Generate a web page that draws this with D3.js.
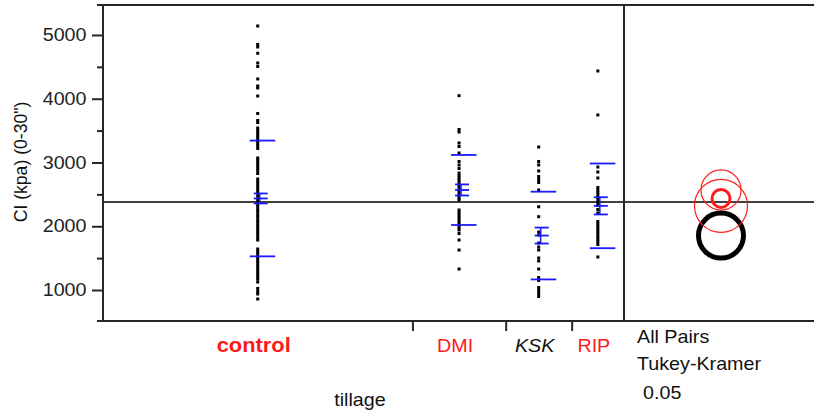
<!DOCTYPE html>
<html>
<head>
<meta charset="utf-8">
<script src="https://cdn.jsdelivr.net/npm/d3@7"></script>
<style>
  html, body { margin: 0; padding: 0; background: #fff; }
  svg { display: block; font-family: "Liberation Sans", Arial, sans-serif; }
</style>
</head>
<body>
<svg id="chart" width="814" height="414"></svg>
<script>
// ---- data -------------------------------------------------------------
const categories = ["control", "DMI", "KSK", "RIP"];
// observations per tillage treatment (x axis is proportional to n)
const groupN = [136, 41, 29, 23];

// cone index readings, kPa (distinct values; repeats overlap)
const ciControl = [5141, 4851, 4812, 4713, 4561, 4506, 4310, 4200, 4169, 4043,
  3769, 3659, 3627,
  3541, 3502, 3463, 3424, 3384, 3345, 3306, 3267, 3220,
  3071, 3031, 2992, 2953, 2914, 2875, 2827,
  2741, 2701, 2661, 2621, 2581, 2541, 2501, 2461, 2421, 2381, 2341, 2301, 2261,
  2221, 2181, 2141, 2101, 2061, 2021, 1981, 1941, 1901, 1861, 1821, 1784,
  1643, 1604, 1565, 1525, 1486, 1447, 1408, 1368, 1329, 1290, 1251, 1212, 1170, 1125,
  1024, 976, 937, 859];
const ciDMI = [4048, 3518, 3478, 3306, 3251, 3149, 3016, 2961, 2906,
  2835, 2796, 2757, 2718, 2678, 2639, 2600, 2561, 2522, 2482, 2443, 2412,
  2255, 2216, 2176, 2137, 2098, 2059, 2020, 1980, 1941, 1886,
  1784, 1627, 1329];
const ciKSK = [3243, 3016, 2961, 2867, 2780, 2733, 2686, 2569, 2306, 2150, 1910, 1862,
  1737, 1674, 1627, 1502, 1455, 1329, 1196, 1149, 1039, 992, 945, 898];
const ciRIP = [4435, 3745, 2929, 2851, 2757,
  2608, 2569, 2529, 2490, 2451, 2412, 2365, 2325, 2263, 2208,
  2075, 2035, 1996, 1957, 1918, 1878, 1839, 1800, 1761, 1714, 1518];
const groupValues = [ciControl, ciDMI, ciKSK, ciRIP];

// summary statistics per group
const groupMean = [2436, 2569, 1854, 2320];
const groupSD = [908, 549, 688, 664];
const groupSE = [78, 87, 125, 135];
const grandMean = 2380;

// Tukey-Kramer comparison circle radii (kPa)
const circleRadius = [141, 314, 353, 416];

const yTicks = [1000, 2000, 3000, 4000, 5000];
const yMinorTicks = [1500, 2500, 3500, 4500];

// ---- layout -----------------------------------------------------------
const W = 814;
const frame = { left: 103, right: 624, top: 5, bottom: 321 };
const circleX = 721;
const textFont = 17.6;
const stretch = 1.12;
const ink = "#262626";
const blue = "#1a1aff";
const red = "#ff1a1a";

const svg = d3.select("#chart");

const y = d3.scaleLinear().domain([514, 5470]).range([frame.bottom, frame.top]);
const total = d3.sum(groupN);
const x = d3.scaleLinear().domain([0, total]).range([frame.left, frame.right]);
const cum = Array.from(d3.cumsum(groupN));
const centers = groupN.map((n, i) => x(cum[i] - n / 2));

function label(px, py, txt, opts = {}) {
  const t = svg.append("text")
    .attr("transform", `translate(${px},${py}) scale(${opts.sx ?? stretch},1)` + (opts.rotate ? ` rotate(${opts.rotate})` : ""))
    .attr("text-anchor", opts.anchor || "start")
    .attr("font-size", opts.size || textFont)
    .attr("fill", opts.fill || "#111")
    .text(txt);
  if (opts.weight) t.attr("font-weight", opts.weight);
  if (opts.italic) t.attr("font-style", "italic");
  return t;
}

// grand mean reference line
svg.append("line")
  .attr("x1", frame.left).attr("x2", W)
  .attr("y1", y(grandMean)).attr("y2", y(grandMean))
  .attr("stroke", "#000").attr("stroke-width", 1.5);

// frame
const frameG = svg.append("g").attr("stroke", ink).attr("stroke-width", 2);
frameG.append("line").attr("x1", frame.left - 6).attr("x2", W).attr("y1", frame.top).attr("y2", frame.top);
frameG.append("line").attr("x1", frame.left - 6).attr("x2", W).attr("y1", frame.bottom).attr("y2", frame.bottom);
frameG.append("line").attr("x1", frame.left).attr("x2", frame.left).attr("y1", frame.top).attr("y2", frame.bottom);
frameG.append("line").attr("x1", frame.right).attr("x2", frame.right).attr("y1", frame.top).attr("y2", frame.bottom);

// y axis: major and minor ticks
const yAxis = svg.append("g")
  .attr("transform", `translate(${frame.left},0)`)
  .call(d3.axisLeft(y).tickValues(yTicks).tickSize(11).tickFormat(d3.format("d")));
yAxis.select(".domain").remove();
yAxis.selectAll(".tick line").attr("stroke", ink).attr("stroke-width", 2);
yAxis.selectAll(".tick text")
  .attr("x", -16.5 / stretch)
  .attr("transform", `scale(${stretch},1)`)
  .attr("font-size", textFont)
  .attr("font-family", "'Liberation Sans', Arial, sans-serif")
  .attr("fill", "#222");

const yMinor = svg.append("g")
  .attr("transform", `translate(${frame.left},0)`)
  .call(d3.axisLeft(y).tickValues(yMinorTicks).tickSize(6).tickFormat(""));
yMinor.select(".domain").remove();
yMinor.selectAll(".tick line").attr("stroke", ink).attr("stroke-width", 2);

// x axis: group boundary ticks
const xAxis = svg.append("g")
  .attr("transform", `translate(0,${frame.bottom})`)
  .call(d3.axisBottom(x).tickValues(cum.slice(0, -1)).tickSize(10).tickFormat(""));
xAxis.select(".domain").remove();
xAxis.selectAll(".tick line").attr("stroke", ink).attr("stroke-width", 2);

// observations
groupValues.forEach((vals, i) => {
  svg.append("g").selectAll("rect")
    .data(vals)
    .join("rect")
    .attr("x", centers[i] - 1.5)
    .attr("y", d => y(d) - 1.5)
    .attr("width", 3)
    .attr("height", 3)
    .attr("fill", "#000");
});

// std dev lines and mean error bars
const blueG = svg.append("g").attr("stroke", blue).attr("stroke-width", 1.8).attr("fill", "none");
categories.forEach((c, i) => {
  const cx = centers[i];
  [groupMean[i] - groupSD[i], groupMean[i] + groupSD[i]].forEach(v => {
    blueG.append("line").attr("x1", cx - 8).attr("x2", cx + 17.5).attr("y1", y(v)).attr("y2", y(v));
  });
  [groupMean[i] - groupSE[i], groupMean[i], groupMean[i] + groupSE[i]].forEach(v => {
    blueG.append("line").attr("x1", cx - 4).attr("x2", cx + 10).attr("y1", y(v)).attr("y2", y(v));
  });
  blueG.append("line").attr("x1", cx + 2).attr("x2", cx + 2)
    .attr("y1", y(groupMean[i] - groupSE[i])).attr("y2", y(groupMean[i] + groupSE[i]))
    .attr("stroke-width", 1.5);
});

// comparison circles
const circleStyle = [
  { stroke: red, width: 3 },
  { stroke: red, width: 1.2 },
  { stroke: "#000", width: 5 },
  { stroke: red, width: 1.2 }
];
categories.forEach((c, i) => {
  svg.append("circle")
    .attr("cx", circleX)
    .attr("cy", y(groupMean[i]))
    .attr("r", y(0) - y(circleRadius[i]))
    .attr("fill", "none")
    .attr("stroke", circleStyle[i].stroke)
    .attr("stroke-width", circleStyle[i].width);
});

// category labels
const catStyle = [
  { fill: red, weight: "bold", size: 19.5 },
  { fill: red },
  { fill: "#111", italic: true },
  { fill: red }
];
categories.forEach((c, i) => {
  label(centers[i] - 4, 352, c, Object.assign({ anchor: "middle" }, catStyle[i]));
});

// axis titles
label(360, 406, "tillage", { anchor: "middle" });
label(27, 162, "CI (kpa) (0-30\")", { anchor: "middle", rotate: -90, sx: 1 });

// comparison legend text
label(637, 343, "All Pairs");
label(637, 370, "Tukey-Kramer");
label(643, 399, "0.05");
</script>
</body>
</html>
